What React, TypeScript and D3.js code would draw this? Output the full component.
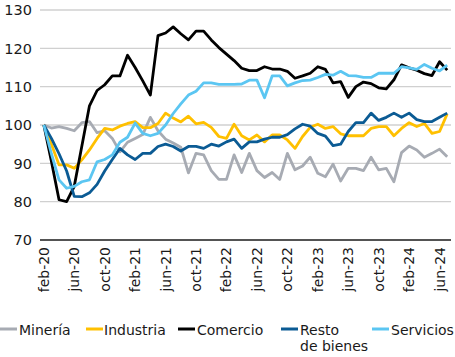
import React from "react";
import * as d3 from "d3";

const categories = [
  "feb-20","mar-20","abr-20","may-20","jun-20","jul-20","ago-20","sep-20","oct-20","nov-20","dic-20","ene-21",
  "feb-21","mar-21","abr-21","may-21","jun-21","jul-21","ago-21","sep-21","oct-21","nov-21","dic-21","ene-22",
  "feb-22","mar-22","abr-22","may-22","jun-22","jul-22","ago-22","sep-22","oct-22","nov-22","dic-22","ene-23",
  "feb-23","mar-23","abr-23","may-23","jun-23","jul-23","ago-23","sep-23","oct-23","nov-23","dic-23","ene-24",
  "feb-24","mar-24","abr-24","may-24","jun-24","jul-24",
];

const tickLabels = [
  "feb-20","jun-20","oct-20","feb-21","jun-21","oct-21","feb-22",
  "jun-22","oct-22","feb-23","jun-23","oct-23","feb-24","jun-24",
];

const yTicks = [70, 80, 90, 100, 110, 120, 130];

const mineria = [
  100, 99.2, 99.6, 99.1, 98.5, 100.6, 100.9, 98, 98.5, 96.5, 93, 95.5,
  96.5, 97.5, 102, 98.5, 96.3, 95.3, 94.2, 87.5, 92.6, 92.2, 88.1, 85.8,
  85.8, 92.2, 87.6, 92.6, 88.1, 86.3, 87.6, 85.8, 92.6, 88.3, 89.3, 91.6,
  87.4, 86.5, 89.8, 85.4, 88.7, 88.7, 88.1, 91.6, 88.3, 88.7, 85.2, 92.8,
  94.5, 93.5, 91.6, 92.6, 93.7, 91.7,
];

const industria = [
  100, 95, 89.6, 89.6, 88.7, 90.9, 93.5, 96.5, 99.1, 98.7, 99.7, 100.4,
  100.9, 99.3, 99.3, 100.4, 103.1, 101.8, 100.8, 102.3, 100.3, 100.7, 99.4, 97,
  96.5, 100.2, 97.2, 96.1, 97.4, 95.6, 97.4, 97.4, 96.1, 93.9, 97, 99.4,
  100.2, 99.1, 99.6, 97.7, 97.2, 97.2, 97.2, 99.1, 99.6, 99.6, 97.2, 99.1,
  100.6, 99.6, 100.4, 97.8, 98.3, 102.9,
];

const comercio = [
  100, 90.5, 80.5, 80, 84, 94.5, 105, 109, 110.5, 112.8, 112.8, 118.2,
  115, 111.5, 107.8, 123.3, 124, 125.6, 123.8, 122.2, 124.5, 124.5, 122.2, 120.2,
  118.5, 116.8, 114.8, 114.2, 114.2, 115.2, 114.6, 114.6, 114, 112.2, 112.8, 113.5,
  115.2, 114.5, 111, 111.3, 107.2, 110, 111.2, 110.8, 109.7, 109.4, 111.8, 115.7,
  114.9, 114.3, 113.4, 112.9, 116.5, 114.3,
];

const restoBienes = [
  100, 96.5, 92.5, 88, 81.4, 81.3, 82.3, 84.5, 88, 91, 93.9, 92.2,
  91, 92.6, 92.6, 94.4, 95, 94.4, 93.2, 94.4, 94.4, 93.9, 95, 94.5,
  95.6, 96.3, 93.9, 95.6, 95.6, 96.3, 96.8, 96.8, 97.5, 99, 100.2, 99.7,
  97.8, 97.1, 94.6, 95, 98.3, 100.6, 100.6, 103.1, 101.2, 102, 103.1, 102,
  103.1, 101.4, 100.9, 100.9, 102, 103.1,
];

const servicios = [
  100, 92.5, 85.7, 83.5, 84, 85.2, 85.7, 90.4, 91, 92.2, 95.5, 96.8,
  100.5, 97.8, 97.2, 97.8, 100, 103, 105.5, 107.8, 108.8, 111, 111, 110.6,
  110.6, 110.6, 110.7, 111.7, 111.7, 107.1, 112.8, 112.8, 110.2, 111, 111.6, 111.7,
  112.4, 113.2, 113, 114, 112.9, 112.8, 112.4, 112.4, 113.5, 113.5, 113.5, 115.2,
  114.9, 114.5, 115.8, 114.8, 114.1, 115.6,
];

const seriesNames = ["Minería", "Industria", "Comercio", "Resto de bienes", "Servicios"];
const seriesColors = ["#A7ABB3", "#FFC000", "#000000", "#0B5B94", "#5BC6F2"];
const seriesValues = [mineria, industria, comercio, restoBienes, servicios];

const FONT = "'DejaVu Sans', sans-serif";

export default function App() {
  const width = 455;
  const height = 357;
  const left = 40;
  const right = 451;
  const top = 10;
  const bottom = 240;

  const x = d3.scalePoint<string>().domain(categories).range([left, right]).padding(0.5);
  const y = d3.scaleLinear().domain([70, 130]).range([bottom, top]);

  const line = d3
    .line<number>()
    .x((_, i) => x(categories[i]) as number)
    .y((v) => y(v));

  const legendItems = [
    { lx: 0, tx: 19 },
    { lx: 86, tx: 104 },
    { lx: 178, tx: 197 },
    { lx: 281, tx: 300 },
    { lx: 372, tx: 391 },
  ];

  return (
    <svg
      width={width}
      height={height}
      style={{ position: "absolute", left: 0, top: 0, background: "#fff" }}
      fontFamily={FONT}
    >
      {yTicks.filter((t) => t > 70).map((t) => (
        <line key={t} x1={left} x2={right} y1={y(t)} y2={y(t)} stroke="#D0D0D0" strokeWidth={1.3} />
      ))}
      <line x1={left} x2={right} y1={y(70)} y2={y(70)} stroke="#1a1a1a" strokeWidth={1.3} />
      {yTicks.map((t) => (
        <text key={t} x={32} y={y(t)} dy="0.36em" textAnchor="end" fontSize={14.5} fill="#1a1a1a">
          {t}
        </text>
      ))}
      {tickLabels.map((lab) => {
        const px = x(lab) as number;
        return (
          <text
            key={lab}
            transform={`translate(${px + 5},${bottom + 7}) rotate(-90)`}
            textAnchor="end"
            fontSize={14}
            fill="#1a1a1a"
          >
            {lab}
          </text>
        );
      })}
      {seriesValues.map((vals, si) => (
        <path
          key={seriesNames[si]}
          d={line(vals) || ""}
          fill="none"
          stroke={seriesColors[si]}
          strokeWidth={2.8}
          strokeLinejoin="round"
          strokeLinecap="butt"
        />
      ))}
      {seriesNames.map((name, si) => {
        const it = legendItems[si];
        const parts = name === "Resto de bienes" ? ["Resto", "de bienes"] : [name];
        return (
          <g key={name}>
            <line x1={it.lx} x2={it.lx + 17} y1={329} y2={329} stroke={seriesColors[si]} strokeWidth={3} />
            {parts.map((p, k) => (
              <text key={p} x={it.tx} y={335 + k * 16} fontSize={14} fill="#1a1a1a">
                {p}
              </text>
            ))}
          </g>
        );
      })}
    </svg>
  );
}
